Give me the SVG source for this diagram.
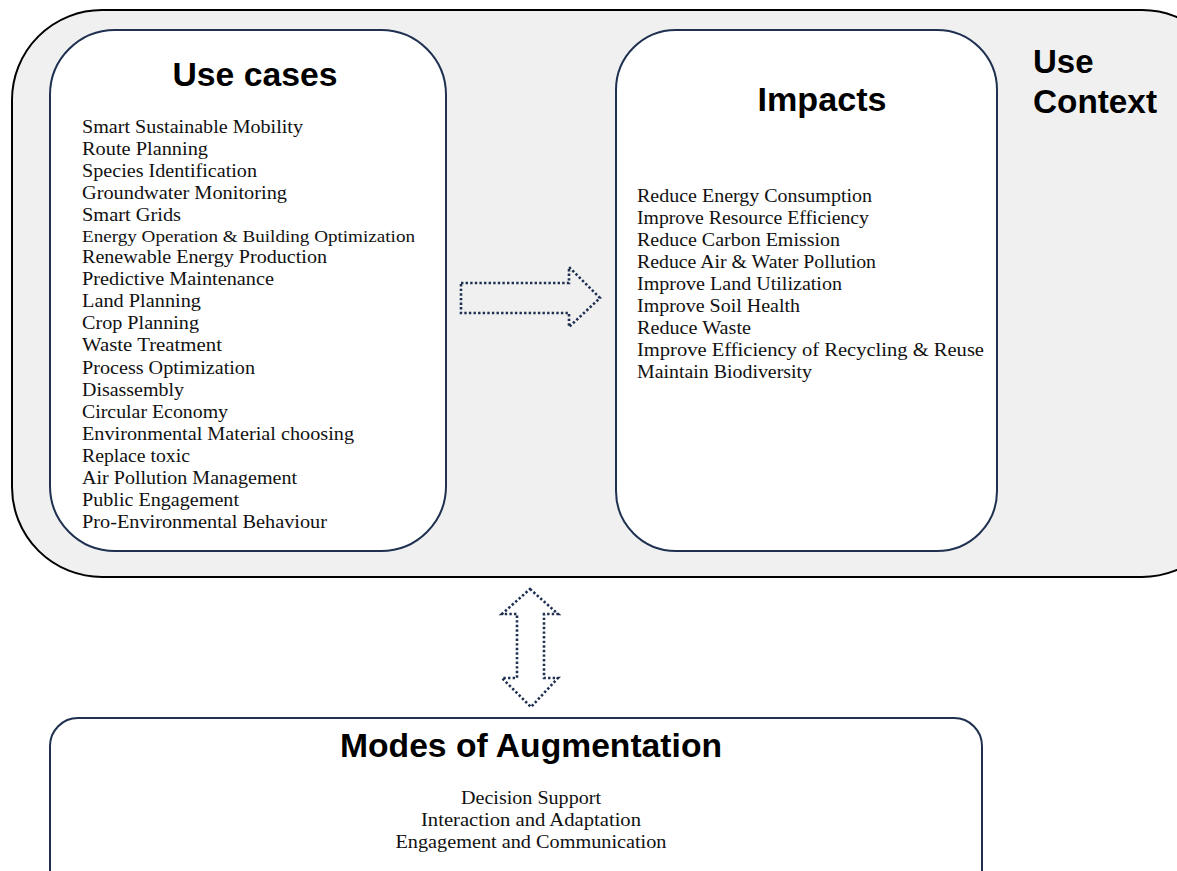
<svg xmlns="http://www.w3.org/2000/svg" width="1177" height="871" viewBox="0 0 1177 871">
<style>
.box{fill:#fff;stroke:#1f3050;stroke-width:2}
.title{font-family:"Liberation Sans",Arial,sans-serif;font-weight:bold;font-size:33px;fill:#000}
.item{font-family:"Liberation Serif","DejaVu Serif",serif;font-size:18px;fill:#111}
.dots{fill:none;stroke:#1f3050;stroke-width:2.6;stroke-dasharray:2.4 2.2}
</style>
<rect x="0" y="0" width="1177" height="871" fill="#fff"/>
<g id="use-context">
<rect x="12" y="10" width="1220" height="567" rx="90" ry="90" fill="#f0f0f0" stroke="#000" stroke-width="2"/>
<text class="title" x="1033" y="73">Use</text>
<text class="title" x="1033" y="113" textLength="124" lengthAdjust="spacingAndGlyphs">Context</text>
</g>
<g id="use-cases">
<rect class="box" x="50" y="30" width="396" height="521" rx="65" ry="65"/>
<text class="title" x="255" y="86" text-anchor="middle" textLength="165" lengthAdjust="spacingAndGlyphs">Use cases</text>
<g class="item">
<text x="82" y="133" textLength="221" lengthAdjust="spacingAndGlyphs">Smart Sustainable Mobility</text>
<text x="82" y="155" textLength="126" lengthAdjust="spacingAndGlyphs">Route Planning</text>
<text x="82" y="177" textLength="175" lengthAdjust="spacingAndGlyphs">Species Identification</text>
<text x="82" y="199" textLength="205" lengthAdjust="spacingAndGlyphs">Groundwater Monitoring</text>
<text x="82" y="221" textLength="99" lengthAdjust="spacingAndGlyphs">Smart Grids</text>
<text x="82" y="242" font-size="16" textLength="333" lengthAdjust="spacingAndGlyphs">Energy Operation &amp; Building Optimization</text>
<text x="82" y="263" textLength="245" lengthAdjust="spacingAndGlyphs">Renewable Energy Production</text>
<text x="82" y="285" textLength="192" lengthAdjust="spacingAndGlyphs">Predictive Maintenance</text>
<text x="82" y="307" textLength="119" lengthAdjust="spacingAndGlyphs">Land Planning</text>
<text x="82" y="329" textLength="117" lengthAdjust="spacingAndGlyphs">Crop Planning</text>
<text x="82" y="351" textLength="140" lengthAdjust="spacingAndGlyphs">Waste Treatment</text>
<text x="82" y="374" textLength="173" lengthAdjust="spacingAndGlyphs">Process Optimization</text>
<text x="82" y="396" textLength="102" lengthAdjust="spacingAndGlyphs">Disassembly</text>
<text x="82" y="418" textLength="146" lengthAdjust="spacingAndGlyphs">Circular Economy</text>
<text x="82" y="440" textLength="272" lengthAdjust="spacingAndGlyphs">Environmental Material choosing</text>
<text x="82" y="462" textLength="108" lengthAdjust="spacingAndGlyphs">Replace toxic</text>
<text x="82" y="484" textLength="215" lengthAdjust="spacingAndGlyphs">Air Pollution Management</text>
<text x="82" y="506" textLength="157" lengthAdjust="spacingAndGlyphs">Public Engagement</text>
<text x="82" y="528" textLength="245" lengthAdjust="spacingAndGlyphs">Pro-Environmental Behaviour</text>
</g>
</g>
<g id="impacts">
<rect class="box" x="616" y="30" width="381" height="521" rx="60" ry="60"/>
<text class="title" x="822" y="111" text-anchor="middle" textLength="129" lengthAdjust="spacingAndGlyphs">Impacts</text>
<g class="item">
<text x="637" y="202" textLength="235" lengthAdjust="spacingAndGlyphs">Reduce Energy Consumption</text>
<text x="637" y="224" textLength="232" lengthAdjust="spacingAndGlyphs">Improve Resource Efficiency</text>
<text x="637" y="246" textLength="203" lengthAdjust="spacingAndGlyphs">Reduce Carbon Emission</text>
<text x="637" y="268" textLength="239" lengthAdjust="spacingAndGlyphs">Reduce Air &amp; Water Pollution</text>
<text x="637" y="290" textLength="205" lengthAdjust="spacingAndGlyphs">Improve Land Utilization</text>
<text x="637" y="312" textLength="163" lengthAdjust="spacingAndGlyphs">Improve Soil Health</text>
<text x="637" y="334" textLength="114" lengthAdjust="spacingAndGlyphs">Reduce Waste</text>
<text x="637" y="356" textLength="347" lengthAdjust="spacingAndGlyphs">Improve Efficiency of Recycling &amp; Reuse</text>
<text x="637" y="378" textLength="175" lengthAdjust="spacingAndGlyphs">Maintain Biodiversity</text>
</g>
</g>
<g id="modes">
<rect class="box" x="50" y="718" width="932" height="200" rx="28" ry="28"/>
<text class="title" x="531" y="757" text-anchor="middle" textLength="382" lengthAdjust="spacingAndGlyphs">Modes of Augmentation</text>
<g class="item" text-anchor="middle">
<text x="531" y="804" textLength="140" lengthAdjust="spacingAndGlyphs">Decision Support</text>
<text x="531" y="826" textLength="220" lengthAdjust="spacingAndGlyphs">Interaction and Adaptation</text>
<text x="531" y="848" textLength="271" lengthAdjust="spacingAndGlyphs">Engagement and Communication</text>
</g>
</g>
<g id="connectors">
<path class="dots" d="M461,283 L569,283 L569,267 L600,298 L569,327 L569,313 L461,313 Z"/>
<path class="dots" d="M530,589 L558,614 L544,614 L544,678 L558,678 L531,707 L502,678 L517,678 L517,614 L502,614 Z"/>
</g>
</svg>
